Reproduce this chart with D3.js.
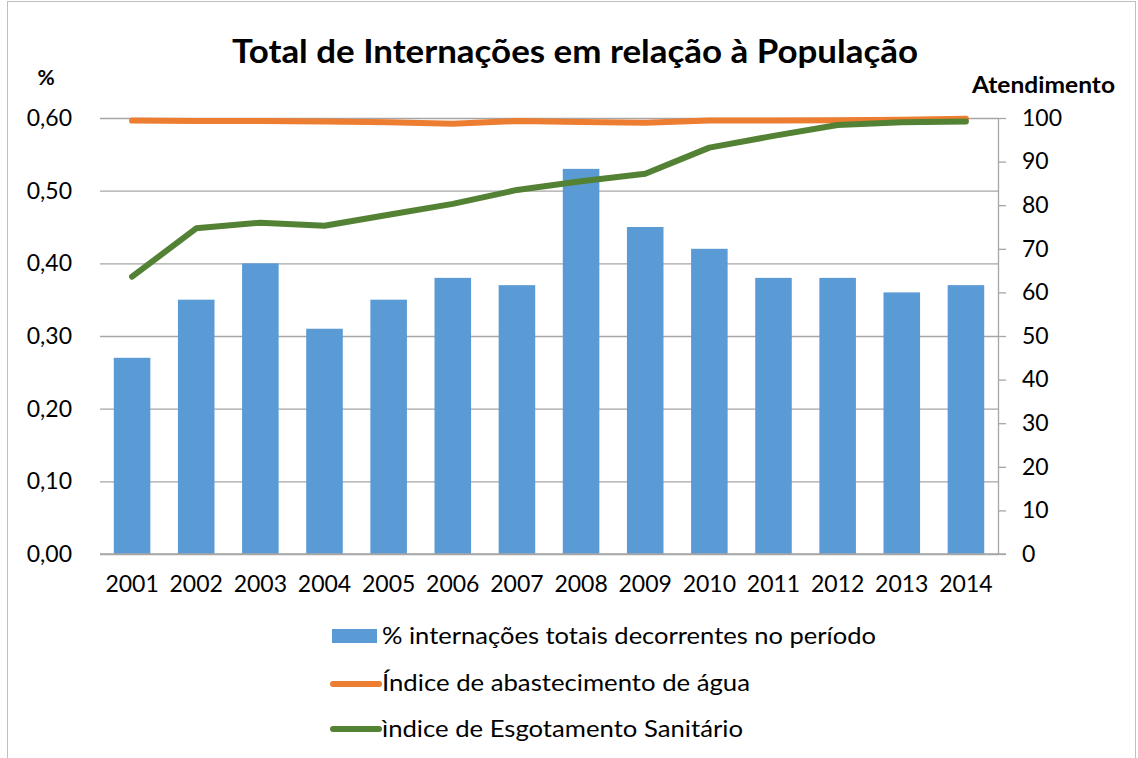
<!DOCTYPE html>
<html>
<head>
<meta charset="utf-8">
<script src="https://cdn.jsdelivr.net/npm/d3@7"></script>
<style>
   body { margin: 0; background: #ffffff; }
   svg { display: block; font-family: Lato, "Open Sans", sans-serif; }
</style>
</head>
<body>
<div id="chart"></div>
<script>
// data
const aYear = ["2001", "2002", "2003", "2004", "2005", "2006", "2007", "2008", "2009", "2010", "2011", "2012", "2013", "2014"];
const aInternacao = [0.27, 0.35, 0.40, 0.31, 0.35, 0.38, 0.37, 0.53, 0.45, 0.42, 0.38, 0.38, 0.36, 0.37]; // % internações
const aAgua = [99.4, 99.3, 99.3, 99.2, 99.0, 98.7, 99.3, 99.1, 98.9, 99.4, 99.4, 99.5, 99.6, 99.8];   // abastecimento de água
const aEsgoto = [63.6, 74.7, 76.0, 75.3, 77.8, 80.3, 83.5, 85.5, 87.2, 93.2, 95.9, 98.4, 99.0, 99.2]; // esgotamento sanitário
const aTickLeft = [0, 0.1, 0.2, 0.3, 0.4, 0.5, 0.6];
const aTickRight = [0, 10, 20, 30, 40, 50, 60, 70, 80, 90, 100];
const aLegend = ["% internações totais decorrentes no período", "Índice de abastecimento de água", "ìndice de Esgotamento Sanitário"];

const iWidth = 1138, iHeight = 758;
const oPlot = { left: 100, right: 998, top: 118, bottom: 554 }; // plot area
const sBlue = "#5b9bd5", sOrange = "#ed7d31", sGreen = "#548235", sGrid = "#a6a6a6";

let d3Svg = d3.select("#chart").append("svg")
   .attr("width", iWidth)
   .attr("height", iHeight);

// chart border
d3Svg.append("rect")
   .attr("x", 7.5).attr("y", 1.5)
   .attr("width", 1128).attr("height", 800)
   .attr("fill", "none").attr("stroke", "#bfbfbf").attr("stroke-width", 1);

const d3X = d3.scaleBand().domain(aYear).range([oPlot.left, oPlot.right]).paddingInner(0.43).paddingOuter(0.215);
const d3XLine = d3.scaleBand().domain(aYear).range([oPlot.left, oPlot.right]); // centers for lines
const d3YLeft = d3.scaleLinear().domain([0, 0.6]).range([oPlot.bottom, oPlot.top]);
const d3YRight = d3.scaleLinear().domain([0, 100]).range([oPlot.bottom, oPlot.top]);
const fmtLeft = v => d3.format(".2f")(v).replace(".", ",");

// gridlines + left labels
let gLeft = d3Svg.append("g")
   .attr("transform", `translate(${oPlot.left},0)`)
   .call(d3.axisLeft(d3YLeft).tickValues(aTickLeft).tickFormat(fmtLeft)
      .tickSize(-(oPlot.right - oPlot.left)).tickPadding(28));
gLeft.select(".domain").remove();
gLeft.selectAll("line").attr("stroke", sGrid).attr("stroke-width", 1.3);
gLeft.selectAll("text").attr("font-family", "Lato, sans-serif").attr("font-size", "23px").attr("fill", "#000");

// right axis
let gRight = d3Svg.append("g")
   .attr("transform", `translate(${oPlot.right},0)`)
   .call(d3.axisRight(d3YRight).tickValues(aTickRight).tickSize(8).tickPadding(16).tickSizeOuter(0));
gRight.select(".domain").attr("stroke", sGrid).attr("stroke-width", 1.3);
gRight.selectAll("line").attr("stroke", sGrid).attr("stroke-width", 1.3);
gRight.selectAll("text").attr("font-family", "Lato, sans-serif").attr("font-size", "23px").attr("fill", "#000");

// bars
d3Svg.append("g").selectAll("rect")
   .data(aInternacao)
   .enter()
   .append("rect")
   .attr("x", (v, i) => d3X(aYear[i]))
   .attr("y", v => d3YLeft(v))
   .attr("width", d3X.bandwidth())
   .attr("height", v => d3YLeft(0) - d3YLeft(v))
   .attr("fill", sBlue);

// baseline over bars
d3Svg.append("line")
   .attr("x1", oPlot.left).attr("x2", oPlot.right + 8)
   .attr("y1", d3YLeft(0)).attr("y2", d3YLeft(0))
   .attr("stroke", sGrid).attr("stroke-width", 1.3);

// x labels
const gX = d3Svg.append("g")
   .attr("transform", `translate(0,${oPlot.bottom})`)
   .call(d3.axisBottom(d3XLine).tickSize(0).tickPadding(22));
gX.select(".domain").remove();
gX.selectAll("text").attr("font-family", "Lato, sans-serif").attr("font-size", "23px").attr("fill", "#000");

// lines
const d3Line = d3.line()
   .x((v, i) => d3XLine(aYear[i]) + d3XLine.bandwidth() / 2)
   .y(v => d3YRight(v));
d3Svg.append("path").datum(aAgua)
   .attr("d", d3Line).attr("fill", "none")
   .attr("stroke", sOrange).attr("stroke-width", 6)
   .attr("stroke-linecap", "round").attr("stroke-linejoin", "round");
d3Svg.append("path").datum(aEsgoto)
   .attr("d", d3Line).attr("fill", "none")
   .attr("stroke", sGreen).attr("stroke-width", 6)
   .attr("stroke-linecap", "round").attr("stroke-linejoin", "round");

// title and axis titles (text stretched a bit, as in the picture)
d3Svg.append("text")
   .text("Total de Internações em relação à População")
   .attr("x", 575).attr("y", 63)
   .attr("text-anchor", "middle")
   .attr("textLength", 686).attr("lengthAdjust", "spacingAndGlyphs")
   .attr("font-family", "Lato, sans-serif")
   .attr("font-weight", "bold")
   .attr("font-size", "33px");
d3Svg.append("text")
   .text("%")
   .attr("x", 46).attr("y", 85)
   .attr("text-anchor", "middle")
   .attr("font-weight", "bold").attr("font-size", "21px");
d3Svg.append("text")
   .text("Atendimento")
   .attr("x", 972).attr("y", 93)
   .attr("textLength", 143).attr("lengthAdjust", "spacingAndGlyphs")
   .attr("font-weight", "bold").attr("font-size", "22px");

// legend
const aLegendWidth = [494, 368, 361];
const gLegend = d3Svg.append("g");
gLegend.append("rect")
   .attr("x", 332).attr("y", 629).attr("width", 45).attr("height", 14)
   .attr("fill", sBlue);
[sOrange, sGreen].forEach((sColor, i) => {
   const iY = 684 + i * 45;
   gLegend.append("line")
      .attr("x1", 333).attr("x2", 379).attr("y1", iY).attr("y2", iY)
      .attr("stroke", sColor).attr("stroke-width", 6).attr("stroke-linecap", "round");
});
gLegend.selectAll("text")
   .data(aLegend)
   .enter()
   .append("text")
   .text(s => s)
   .attr("x", 382)
   .attr("y", (s, i) => 636 + i * 46.5)
   .attr("dy", "0.35em")
   .attr("textLength", (s, i) => aLegendWidth[i])
   .attr("lengthAdjust", "spacingAndGlyphs")
   .attr("font-size", "23px")
   .attr("fill", "#000");
</script>
</body>
</html>
